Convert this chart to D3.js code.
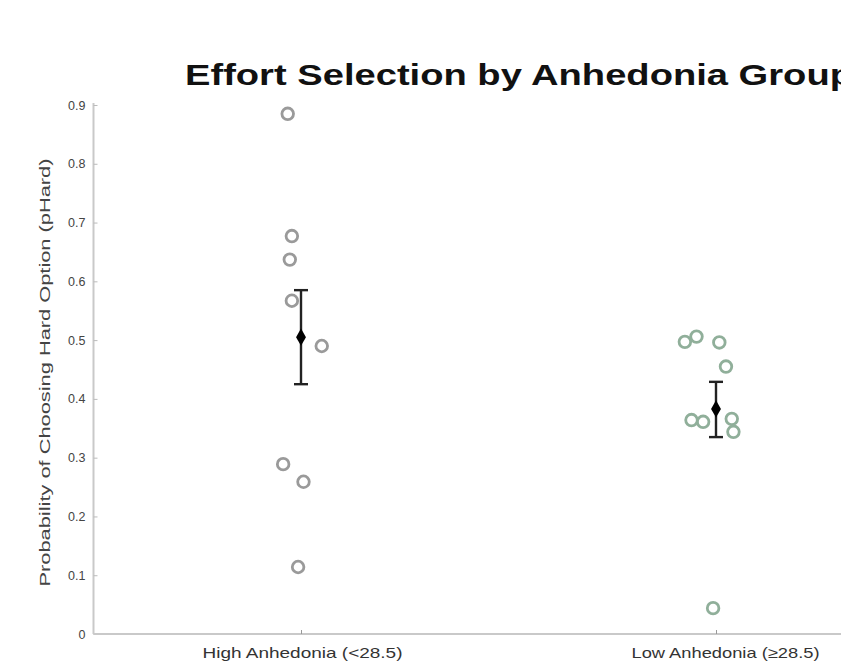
<!DOCTYPE html>
<html>
<head>
<meta charset="utf-8">
<script src="https://cdn.jsdelivr.net/npm/d3@7"></script>
<style>
  body { margin: 0; background: #fff; }
  svg { display: block; font-family: "Liberation Sans", Arial, sans-serif; }
</style>
</head>
<body>
<div id="chart"></div>
<script>
// groups and labels
const groups = ['High Anhedonia (<28.5)', 'Low Anhedonia (\u226528.5)'];
const yTicks = [0, 0.1, 0.2, 0.3, 0.4, 0.5, 0.6, 0.7, 0.8, 0.9];

// per-subject pHard and the jitter used on the x position (category units)
const highValues = [0.885, 0.677, 0.637, 0.567, 0.490, 0.289, 0.259, 0.114];
const highJitter = [-0.032, -0.022, -0.027, -0.022, 0.050, -0.043, 0.006, -0.007];
const lowValues = [0.497, 0.506, 0.496, 0.455, 0.364, 0.361, 0.366, 0.344, 0.044];
const lowJitter = [-0.075, -0.047, 0.008, 0.024, -0.059, -0.031, 0.038, 0.042, -0.007];

// group mean and error bar ends
const means = [0.505, 0.383];
const errLow = [0.425, 0.335];
const errHigh = [0.585, 0.429];

const W = 841, H = 670;
const svg = d3.select('#chart')
  .append('svg')
  .attr('width', W)
  .attr('height', H);

const x = d3.scaleLinear().domain([0.5, 2.5]).range([93.5, 923.5]);
const y = d3.scaleLinear().domain([0, 0.9]).range([634, 105]);

const axisColor = '#c9c9c9';

// title
svg.append('text')
  .attr('x', 185)
  .attr('y', 85)
  .attr('font-size', 30)
  .attr('font-weight', 'bold')
  .attr('fill', '#111')
  .attr('textLength', 668)
  .attr('lengthAdjust', 'spacingAndGlyphs')
  .text('Effort Selection by Anhedonia Group');

// y axis
const yAxis = d3.axisLeft(y)
  .tickValues(yTicks)
  .tickSize(-4)
  .tickPadding(8)
  .tickFormat(d => d === 0 ? '0' : d3.format('.1f')(d));

const gy = svg.append('g')
  .attr('transform', `translate(${x(0.5)},0)`)
  .call(yAxis);
gy.select('.domain').attr('stroke', axisColor).attr('stroke-width', 2)
  .attr('d', `M0,${y(0)}V${y(0.9) - 2}`);
gy.selectAll('.tick line').attr('stroke', '#bbb');
gy.selectAll('.tick text')
  .attr('fill', '#444')
  .attr('font-size', 12.5);

// x axis
const xAxis = d3.axisBottom(x)
  .tickValues([1, 2])
  .tickSize(-4)
  .tickPadding(13)
  .tickFormat((d, i) => groups[i]);

const gx = svg.append('g')
  .attr('transform', `translate(0,${y(0)})`)
  .call(xAxis);
gx.select('.domain').attr('stroke', axisColor).attr('stroke-width', 2)
  .attr('d', `M${x(0.5)},0H${W + 10}`);
gx.selectAll('.tick line').attr('stroke', '#999');
gx.selectAll('.tick text')
  .attr('fill', '#333')
  .attr('font-size', 15)
  .attr('textLength', (d, i) => i === 0 ? 200 : 188)
  .attr('lengthAdjust', 'spacingAndGlyphs')
  .attr('dx', (d, i) => i === 0 ? 1 : 9);

// y label
svg.append('text')
  .attr('transform', `translate(50,${(y(0.1) + y(0.8)) / 2 + 3}) rotate(-90)`)
  .attr('text-anchor', 'middle')
  .attr('font-size', 15)
  .attr('fill', '#444')
  .attr('textLength', 428)
  .attr('lengthAdjust', 'spacingAndGlyphs')
  .text('Probability of Choosing Hard Option (pHard)');

// subject points
const pointSets = [
  { values: highValues, jitter: highJitter, pos: 1, color: '#9a9a9a' },
  { values: lowValues, jitter: lowJitter, pos: 2, color: '#90af9a' }
];

pointSets.forEach(set => {
  svg.append('g')
    .selectAll('circle')
    .data(set.values)
    .enter()
    .append('circle')
    .attr('cx', (d, i) => x(set.pos + set.jitter[i]))
    .attr('cy', d => y(d))
    .attr('r', 5.8)
    .attr('fill', 'none')
    .attr('stroke', set.color)
    .attr('stroke-width', 2.8);
});

// mean + error bars
const capHalf = 7;
const err = svg.append('g').selectAll('g')
  .data(means)
  .enter()
  .append('g');

err.append('line')
  .attr('x1', (d, i) => x(i + 1))
  .attr('x2', (d, i) => x(i + 1))
  .attr('y1', (d, i) => y(errLow[i]))
  .attr('y2', (d, i) => y(errHigh[i]))
  .attr('stroke', '#222')
  .attr('stroke-width', 2.4);

err.append('line')
  .attr('x1', (d, i) => x(i + 1) - capHalf)
  .attr('x2', (d, i) => x(i + 1) + capHalf)
  .attr('y1', (d, i) => y(errHigh[i]))
  .attr('y2', (d, i) => y(errHigh[i]))
  .attr('stroke', '#222')
  .attr('stroke-width', 2.4);

err.append('line')
  .attr('x1', (d, i) => x(i + 1) - capHalf)
  .attr('x2', (d, i) => x(i + 1) + capHalf)
  .attr('y1', (d, i) => y(errLow[i]))
  .attr('y2', (d, i) => y(errLow[i]))
  .attr('stroke', '#222')
  .attr('stroke-width', 2.4);

err.append('path')
  .attr('transform', (d, i) => `translate(${x(i + 1)},${y(d)})`)
  .attr('d', d3.symbol().type(d3.symbolDiamond).size(85))
  .attr('fill', '#000');
</script>
</body>
</html>
